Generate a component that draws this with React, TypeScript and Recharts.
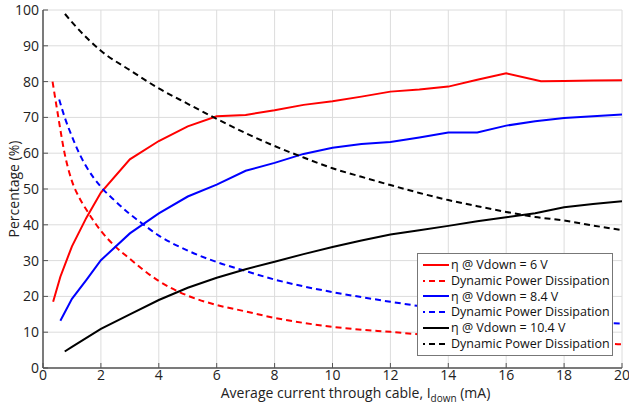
import React from 'react';
import { LineChart, Line, XAxis, YAxis, CartesianGrid, Legend } from 'recharts';

const FONT = '"Open Sans", "DejaVu Sans", sans-serif';

const xTicks = [0, 2, 4, 6, 8, 10, 12, 14, 16, 18, 20];
const yTicks = [0, 10, 20, 30, 40, 50, 60, 70, 80, 90, 100];

// η @ Vdown = 6 V
const eta6X = [0.35, 0.6, 1, 1.5, 2, 3, 4, 5, 6, 7, 8, 9, 10, 11, 12, 13, 14, 15, 16, 17.2, 18, 19, 20];
const eta6Y = [18.5, 25.5, 34, 42, 49, 58.3, 63.4, 67.5, 70.3, 70.7, 72, 73.5, 74.5, 75.8, 77.2, 77.8, 78.6, 80.5, 82.3, 80.1, 80.2, 80.3, 80.4];

// Dynamic power dissipation (6 V)
const dyn6X = [0.33, 0.5, 0.75, 1, 1.25, 1.5, 2, 2.5, 3, 3.5, 4, 5, 6, 7, 8, 9, 10, 11, 12, 13, 14, 15, 16, 17, 18, 19, 20];
const dyn6Y = [80, 71.5, 59.8, 52.2, 47.6, 44.2, 38.3, 33.9, 30.5, 27.2, 24.3, 20.2, 17.6, 15.8, 14.0, 12.6, 11.5, 10.7, 10.1, 9.4, 8.9, 8.4, 8.0, 7.6, 7.2, 6.9, 6.6];

// η @ Vdown = 8.4 V
const eta84X = [0.6, 1, 1.5, 2, 3, 4, 5, 6, 7, 8, 9, 10, 11, 12, 13, 14, 15, 16, 17, 18, 19, 20];
const eta84Y = [13.2, 19.3, 24.6, 30.1, 37.6, 43.2, 47.9, 51.2, 55.1, 57.3, 59.8, 61.5, 62.6, 63.1, 64.4, 65.8, 65.8, 67.7, 68.9, 69.8, 70.3, 70.8];

// Dynamic power dissipation (8.4 V)
const dyn84X = [0.56, 0.75, 1, 1.25, 1.5, 2, 2.5, 3, 3.5, 4, 5, 6, 7, 8, 9, 10, 11, 12, 13, 14, 15, 16, 17, 18, 19, 20];
const dyn84Y = [75, 70, 64.7, 60, 56.2, 50.6, 46.6, 43.0, 39.9, 37.0, 32.8, 29.6, 27.1, 24.7, 22.8, 21.2, 19.8, 18.5, 17.3, 16.3, 15.4, 14.6, 13.9, 13.3, 12.8, 12.4];

// η @ Vdown = 10.4 V
const eta104X = [0.75, 1, 2, 3, 4, 5, 6, 7, 8, 9, 10, 11, 12, 13, 14, 15, 16, 17, 18, 19, 20];
const eta104Y = [4.6, 5.9, 10.9, 15, 19, 22.4, 25.2, 27.6, 29.7, 31.8, 33.8, 35.6, 37.3, 38.5, 39.7, 41.0, 42.1, 43.2, 44.9, 45.8, 46.6];

// Dynamic power dissipation (10.4 V)
const dyn104X = [0.76, 1, 1.5, 2, 3, 4, 5, 6, 7, 8, 9, 10, 11, 12, 13, 14, 15, 16, 17, 18, 19, 20];
const dyn104Y = [98.9, 96.6, 92.3, 88.6, 83.2, 78.1, 73.8, 69.6, 65.6, 62, 58.8, 55.8, 53.4, 51.1, 48.9, 46.9, 45.2, 43.6, 42.2, 41.2, 39.8, 38.5];

const legendLabels = [
  'η @ Vdown = 6 V',
  'Dynamic Power Dissipation',
  'η @ Vdown = 8.4 V',
  'Dynamic Power Dissipation',
  'η @ Vdown = 10.4 V',
  'Dynamic Power Dissipation',
];
const seriesColors = ['#ff0000', '#ff0000', '#0000ff', '#0000ff', '#000000', '#000000'];
const seriesDashed = [false, true, false, true, false, true];

const toPoints = (xs: number[], ys: number[]) => xs.map((x, i) => ({ x, y: ys[i] }));

const seriesData = [
  toPoints(eta6X, eta6Y),
  toPoints(dyn6X, dyn6Y),
  toPoints(eta84X, eta84Y),
  toPoints(dyn84X, dyn84Y),
  toPoints(eta104X, eta104Y),
  toPoints(dyn104X, dyn104Y),
];

const AXIS = '#555';
const TICK_LEN = 5;

const BottomTick = (props: any) => {
  const { x, y, payload } = props;
  return (
    <g>
      <line x1={x} y1={y} x2={x} y2={y - TICK_LEN} stroke={AXIS} strokeWidth={1} />
      <text x={x} y={y + 11.5} textAnchor="middle" fontSize={14} fill="#222" fontFamily={FONT}>
        {payload.value}
      </text>
    </g>
  );
};

const LeftTick = (props: any) => {
  const { x, y, payload } = props;
  return (
    <g>
      <line x1={x} y1={y} x2={x + TICK_LEN} y2={y} stroke={AXIS} strokeWidth={1} />
      <text x={x - 4} y={y + 5} textAnchor="end" fontSize={14} fill="#222" fontFamily={FONT}>
        {payload.value}
      </text>
    </g>
  );
};

const TopTick = (props: any) => {
  const { x, y } = props;
  return <line x1={x} y1={y} x2={x} y2={y + TICK_LEN} stroke={AXIS} strokeWidth={1} />;
};

const RightTick = (props: any) => {
  const { x, y } = props;
  return <line x1={x} y1={y} x2={x - TICK_LEN} y2={y} stroke={AXIS} strokeWidth={1} />;
};

const XLabel = (props: any) => {
  const vb = props.viewBox || { x: 43, y: 368, width: 579, height: 39 };
  return (
    <text x={vb.x + vb.width / 2 + 23} y={vb.y + 30} textAnchor="middle" fontSize={14} fill="#222" fontFamily={FONT}>
      Average current through cable, I
      <tspan fontSize={10} dy={4}>down</tspan>
      <tspan dy={-4}> (mA)</tspan>
    </text>
  );
};

const YLabel = (props: any) => {
  const vb = props.viewBox || { x: 0, y: 10, width: 43, height: 358 };
  const cx = vb.x + 13;
  const cy = vb.y + vb.height / 2;
  return (
    <text
      x={cx}
      y={cy}
      transform={`rotate(-90, ${cx}, ${cy})`}
      textAnchor="middle"
      dominantBaseline="central"
      fontSize={14}
      fill="#222"
      fontFamily={FONT}
    >
      Percentage (%)
    </text>
  );
};

const LegendBox = () => (
  <div
    style={{
      border: '1px solid #777',
      background: '#fff',
      padding: '3px 0',
      width: 194,
      fontFamily: FONT,
      fontSize: 12.5,
      color: '#111',
      boxSizing: 'content-box',
    }}
  >
    {legendLabels.map((label, i) => (
      <div key={i} style={{ display: 'flex', alignItems: 'center', height: 15.8, whiteSpace: 'nowrap' }}>
        <svg width={26} height={4} style={{ marginLeft: 5, marginRight: 2, display: 'block' }}>
          <line
            x1={0}
            y1={2}
            x2={26}
            y2={2}
            stroke={seriesColors[i]}
            strokeWidth={2}
            strokeDasharray={seriesDashed[i] ? '6 4' : undefined}
            strokeDashoffset={seriesDashed[i] ? 4 : undefined}
          />
        </svg>
        <span style={{ lineHeight: '15.8px' }}>{label}</span>
      </div>
    ))}
  </div>
);

export default function App() {
  return (
    <div style={{ position: 'absolute', left: 0, top: 0, width: 629, height: 407, background: '#fff' }}>
      <LineChart width={629} height={407} margin={{ top: 10, right: 7, bottom: 0, left: 0 }}>
        <CartesianGrid stroke="#dcdcdc" strokeWidth={1} />
        <XAxis
          dataKey="x"
          type="number"
          domain={[0, 20]}
          ticks={xTicks}
          allowDataOverflow
          height={39}
          tickSize={0}
          tickMargin={0}
          tickLine={false}
          axisLine={{ stroke: AXIS, strokeWidth: 1.5 }}
          tick={<BottomTick />}
          interval={0}
          label={(p: any) => <XLabel {...p} />}
        />
        <XAxis
          xAxisId="top"
          orientation="top"
          dataKey="x"
          type="number"
          domain={[0, 20]}
          ticks={xTicks}
          allowDataOverflow
          height={0}
          tickSize={0}
          tickMargin={0}
          tickLine={false}
          axisLine={{ stroke: AXIS, strokeWidth: 1.5 }}
          tick={<TopTick />}
          interval={0}
        />
        <YAxis
          type="number"
          domain={[0, 100]}
          ticks={yTicks}
          allowDataOverflow
          width={43}
          tickSize={0}
          tickMargin={0}
          tickLine={false}
          axisLine={{ stroke: AXIS, strokeWidth: 1.5 }}
          tick={<LeftTick />}
          interval={0}
          label={(p: any) => <YLabel {...p} />}
        />
        <YAxis
          yAxisId="right"
          orientation="right"
          type="number"
          domain={[0, 100]}
          ticks={yTicks}
          allowDataOverflow
          width={0}
          tickSize={0}
          tickMargin={0}
          tickLine={false}
          axisLine={{ stroke: AXIS, strokeWidth: 1.5 }}
          tick={<RightTick />}
          interval={0}
        />
        {seriesData.map((d, i) => (
          <Line
            key={i}
            data={d}
            dataKey="y"
            name={legendLabels[i]}
            type={seriesDashed[i] ? 'monotone' : 'linear'}
            stroke={seriesColors[i]}
            strokeWidth={2}
            strokeDasharray={seriesDashed[i] ? '6 4' : undefined}
            dot={false}
            activeDot={false}
            isAnimationActive={false}
          />
        ))}
        <Legend
          layout="horizontal"
          verticalAlign="middle"
          align="center"
          content={() => <LegendBox />}
          wrapperStyle={{ position: 'absolute', left: 417, top: 253, width: 196, height: 'auto' }}
        />
      </LineChart>
    </div>
  );
}
